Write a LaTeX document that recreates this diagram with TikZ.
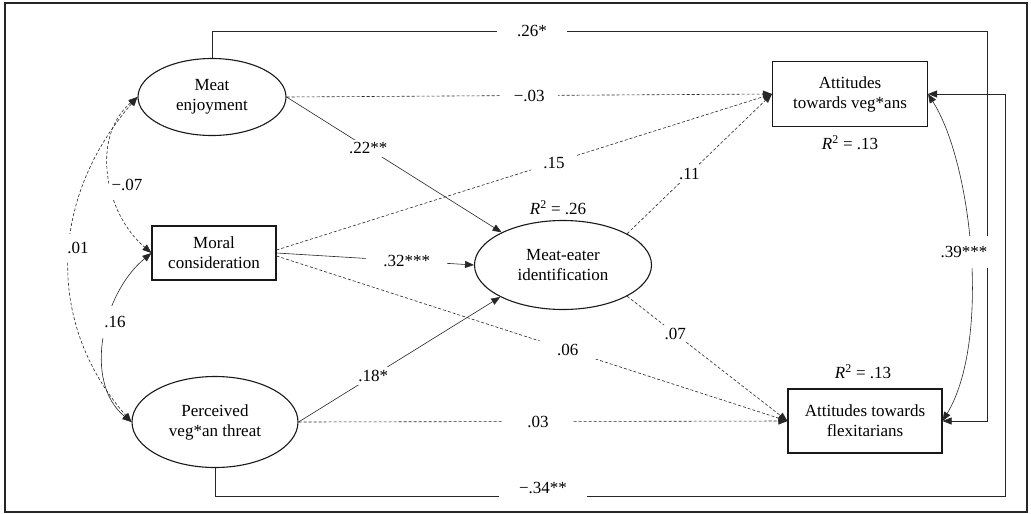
\documentclass[tikz,border=0pt]{standalone}
\usepackage{fontspec}
\setmainfont{Liberation Serif}
\usetikzlibrary{arrows.meta,shapes.geometric}
\begin{document}
\begin{tikzpicture}[x=1pt,y=-1pt,
  font=\fontsize{17}{20}\selectfont,
  >={Triangle[length=9pt,width=7pt]},
  ell/.style={draw=black!90, ellipse, line width=1.1pt, inner sep=0pt, align=center},
  box/.style={draw=black!90, rectangle, line width=1.1pt, inner sep=0pt, align=center},
  con/.style={draw=black!85, line width=0.6pt, ->},
  bicon/.style={draw=black!85, line width=0.6pt, <->},
  dashy/.style={dash pattern=on 3pt off 2pt},
  lbl/.style={fill=white, inner xsep=10pt, inner ysep=3pt},
  rsq/.style={inner sep=1pt}]
\useasboundingbox (0,0) rectangle (1031,514);
\draw[line width=1.2pt, black!85] (5,3) rectangle (1027,512);

% nodes
\node[ell, minimum width=148pt, minimum height=77pt] (me) at (212,97) {Meat\\enjoyment};
\node[box, minimum width=124pt, minimum height=54pt] (mc) at (214,253) {Moral\\consideration};
\node[ell, minimum width=166pt, minimum height=91pt] (pt) at (215,422) {Perceived\\veg*an threat};
\node[ell, minimum width=177pt, minimum height=89pt] (mei) at (563,265) {Meat-eater\\identification};
\node[box, minimum width=155pt, minimum height=65pt] (va) at (850,94) {Attitudes\\towards veg*ans};
\node[box, minimum width=154pt, minimum height=64pt] (fx) at (865,421) {Attitudes towards\\flexitarians};

% R squared
\node[rsq] (r1) at (558,208) {\textit{R}\textsuperscript{2} = .26};
\node[rsq] (r2) at (850,143) {\textit{R}\textsuperscript{2} = .13};
\node[rsq] (r3) at (863,372) {\textit{R}\textsuperscript{2} = .13};

% outer routed paths
\coordinate (tr) at (987,31);
\coordinate (br) at (1005,496);
\draw[con] (me.north) |- (tr) |- (fx.east);
\node[lbl, inner xsep=20pt] (l26) at (532,31) {.26*};
\draw[con] (pt.south) |- (br) |- (va.east);
\node[lbl, inner xsep=20pt, inner ysep=7pt] (l34) at (543,488) {−.34**};

% straight paths
\draw[con, dashy] (me.east) -- node[lbl, pos=0.5, inner xsep=13pt] (l03a) {−.03} (va.west);
\draw[con] (me.east) -- node[lbl, pos=0.38, inner xsep=6pt] (l22) {.22**} (mei.152);
\draw[con, dashy] ([yshift=3pt]mc.east) -- node[lbl, pos=0.56, inner xsep=12pt] (l15) {.15} (va.west);
\draw[con] (mc.east) -- node[lbl, pos=0.66, inner xsep=17pt] (l32) {.32***} (mei.west);
\draw[con, dashy] ([yshift=-3pt]mc.east) -- node[lbl, pos=0.57, inner xsep=20pt] (l06) {.06} (fx.west);
\draw[con] (pt.east) -- node[lbl, pos=0.37, inner xsep=12pt] (l18) {.18*} (mei.207);
\draw[con, dashy] (pt.east) -- node[lbl, pos=0.49, inner xsep=24pt] (l03b) {.03} (fx.west);
\draw[con, dashy] (mei.26) -- node[lbl, pos=0.43, inner xsep=7pt] (l11) {.11} (va.west);
\draw[con, dashy] (mei.-26) -- node[lbl, pos=0.30, inner xsep=11pt] (l07) {.07} (fx.west);

% curved correlations
\draw[bicon, dashy] (me.west) .. controls +(-87,100) and +(-87,-100) .. (pt.west);
\node[lbl, inner xsep=3pt, inner ysep=8pt] (l01) at (78,248) {.01};
\draw[bicon, dashy] (me.west) .. controls +(-47,40) and +(-47,-40) .. (mc.west);
\node[lbl, inner xsep=3pt, inner ysep=8pt] (l07n) at (127,185) {−.07};
\draw[bicon] (mc.west) .. controls +(-49,40) and +(-49,-40) .. (pt.west);
\node[lbl, inner xsep=3pt, inner ysep=10pt] (l16) at (115,322) {.16};
\draw[bicon] (va.east) .. controls +(45,71) and +(48,-79) .. (fx.east);
\node[lbl, inner xsep=1pt, inner ysep=10pt] (l39) at (964,252) {.39***};
\end{tikzpicture}
\end{document}
